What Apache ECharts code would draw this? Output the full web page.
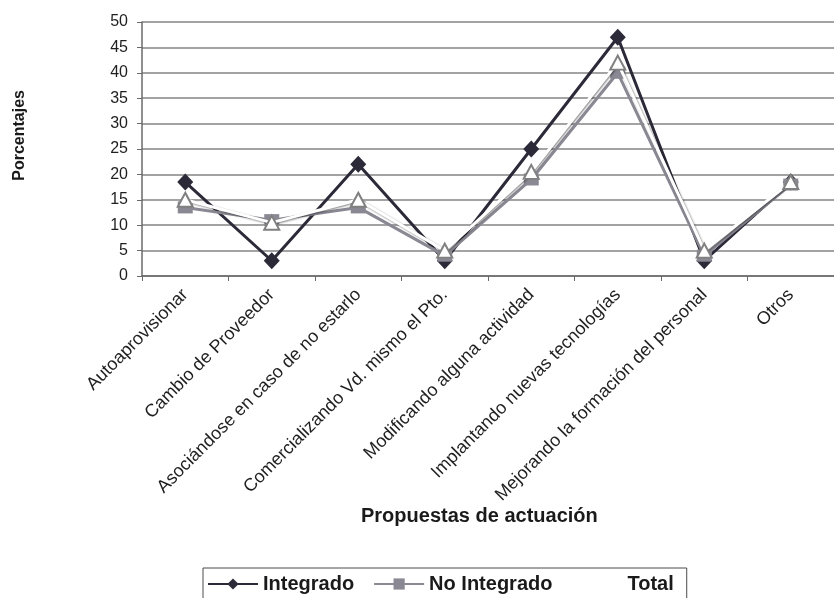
<!DOCTYPE html>
<html>
<head>
<meta charset="utf-8">
<script src="https://cdn.jsdelivr.net/npm/echarts@6/dist/echarts.min.js"></script>
<style>
  html, body { margin: 0; padding: 0; background: #fff; }
  #chart { width: 834px; height: 598px; }
</style>
</head>
<body>
<div id="chart"></div>
<script>
// Propuestas de actuación (categorías del eje X)
var categories = [
  'Autoaprovisionar',
  'Cambio de Proveedor',
  'Asociándose en caso de no estarlo',
  'Comercializando Vd. mismo el Pto.',
  'Modificando alguna actividad',
  'Implantando nuevas tecnologías',
  'Mejorando la formación del personal',
  'Otros'
];

// Porcentajes por grupo
var integrado   = [18.5, 3, 22, 3, 25, 47, 3, 18.5];
var noIntegrado = [13.5, 11, 13.5, 4, 19, 40, 4, 18];
var total       = [15, 10.5, 15, 5, 20.5, 42, 5, 18.5];

// Eje Y
var yMin = 0, yMax = 50, yStep = 5;

var FONT = '"Liberation Sans", Arial, sans-serif';
var chart = echarts.init(document.getElementById('chart'), null, { renderer: 'canvas' });

chart.setOption({
  backgroundColor: '#ffffff',
  animation: false,
  textStyle: { fontFamily: FONT, color: '#1a1a1a' },
  grid: { left: 142, top: 22, width: 700, height: 254, containLabel: false },
  xAxis: {
    type: 'category',
    data: categories,
    boundaryGap: true,
    axisLine: { lineStyle: { color: '#6a6a6a', width: 1.5 } },
    axisTick: { show: true, length: 5, lineStyle: { color: '#6a6a6a', width: 1 } },
    axisLabel: {
      interval: 0, rotate: 45, margin: 16,
      fontSize: 18, color: '#1f1f1f', fontFamily: FONT
    }
  },
  yAxis: {
    type: 'value',
    min: yMin, max: yMax, interval: yStep,
    axisLine: { show: true, lineStyle: { color: '#6a6a6a', width: 1.5 } },
    axisTick: { show: true, length: 5, lineStyle: { color: '#6a6a6a' } },
    axisLabel: { fontSize: 16, color: '#1f1f1f', margin: 14, fontFamily: FONT },
    splitLine: { lineStyle: { color: '#858585', width: 1.5 } }
  },
  legend: {
    left: 203, top: 568,
    orient: 'horizontal',
    itemWidth: 50, itemHeight: 14, itemGap: 19,
    padding: [6, 13, 14, 4],
    borderColor: '#4a4a4a', borderWidth: 1,
    textStyle: { fontSize: 20, fontWeight: 'bold', color: '#1a1a1a', fontFamily: FONT },
    data: [
      'Integrado',
      'No Integrado',
      { name: 'Total', itemStyle: { opacity: 0 }, lineStyle: { opacity: 0 } }
    ]
  },
  graphic: [
    {
      type: 'text', left: 12, top: 90, rotation: Math.PI / 2,
      style: { text: 'Porcentajes', fill: '#1a1a1a', font: 'bold 16px ' + FONT }
    },
    {
      type: 'text', left: 361, top: 506,
      style: { text: 'Propuestas de actuación', fill: '#1a1a1a', font: 'bold 20px ' + FONT }
    }
  ],
  series: [
    {
      name: 'Integrado', type: 'line', data: integrado,
      symbol: 'diamond', symbolSize: [16, 17],
      lineStyle: { color: '#2c2a38', width: 3 },
      itemStyle: { color: '#2c2a38' },
      z: 2
    },
    {
      name: 'No Integrado', type: 'line', data: noIntegrado,
      symbol: 'rect', symbolSize: [15, 12],
      lineStyle: { color: '#8a8893', width: 3 },
      itemStyle: { color: '#8a8893' },
      z: 3
    },
    {
      name: 'Total', type: 'line', data: total,
      symbol: 'triangle', symbolSize: [15, 14],
      lineStyle: {
        color: '#ffffff', width: 3,
        shadowColor: 'rgba(0,0,0,0.45)', shadowBlur: 2, shadowOffsetX: 1, shadowOffsetY: 1
      },
      itemStyle: { color: '#ffffff', borderColor: '#808080', borderWidth: 2 },
      z: 4
    }
  ]
});
</script>
</body>
</html>
